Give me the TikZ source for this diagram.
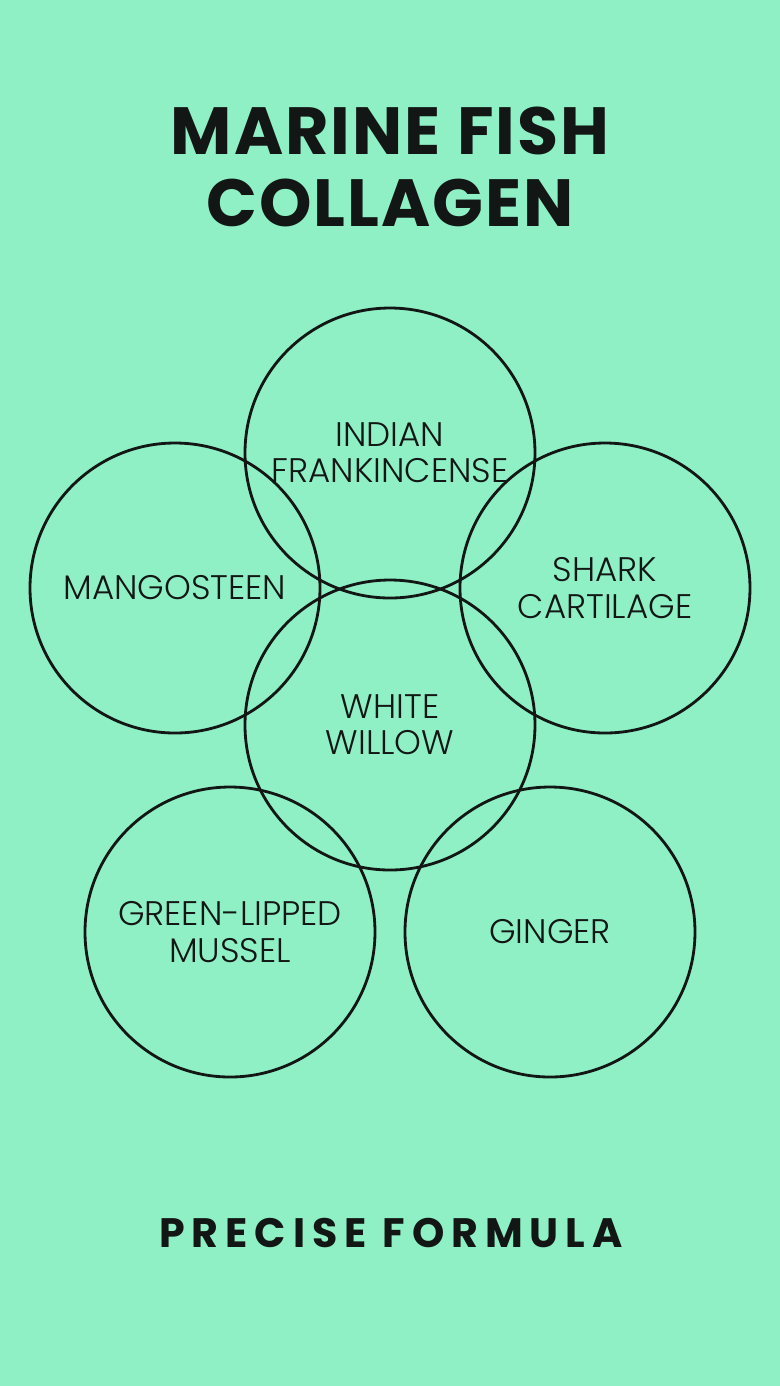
\documentclass[tikz,border=0pt]{standalone}
\usepackage{fontspec}
\setmainfont{Poppins}
\newfontfamily\lightfont{Poppins Light}
\newfontfamily\titlefont{Poppins}[LetterSpace=3]
\newfontfamily\spacedfont{Poppins}[LetterSpace=17]
\usepackage{tikz}
\definecolor{mint}{RGB}{142,240,196}
\definecolor{ink}{RGB}{18,22,20}
\tikzset{
    petal/.style={circle,draw=ink,line width=0.8pt,minimum size=29mm,inner sep=0pt,
        align=center,font=\lightfont\fontsize{9.7}{10.3}\selectfont,text=ink},
}
\begin{document}
\begin{tikzpicture}[x=0.1mm,y=-0.1mm]
        \fill [mint] (0,0) rectangle (780,1386);
        \useasboundingbox (0,0) rectangle (780,1386);
        \node [align=center,font=\titlefont\bfseries\fontsize{19}{20.5}\selectfont,text=ink] (title) at(390,167) {MARINE FISH\\COLLAGEN};

        \node [petal] (frankincense) at(390,453) {INDIAN\\FRANKINCENSE};
        \node [petal] (mangosteen) at(175,588) {MANGOSTEEN};
        \node [petal] (shark) at(605,588) {SHARK\\CARTILAGE};
        \node [petal] (willow) at(390,725) {WHITE\\WILLOW};
        \node [petal] (mussel) at(230,932) {GREEN-LIPPED\\MUSSEL};
        \node [petal] (ginger) at(550,932) {GINGER};

        \node [font=\spacedfont\bfseries\fontsize{11.7}{13}\selectfont,text=ink] (formula) at(391,1233) {PRECISE FORMULA};
    \end{tikzpicture}
\end{document}
